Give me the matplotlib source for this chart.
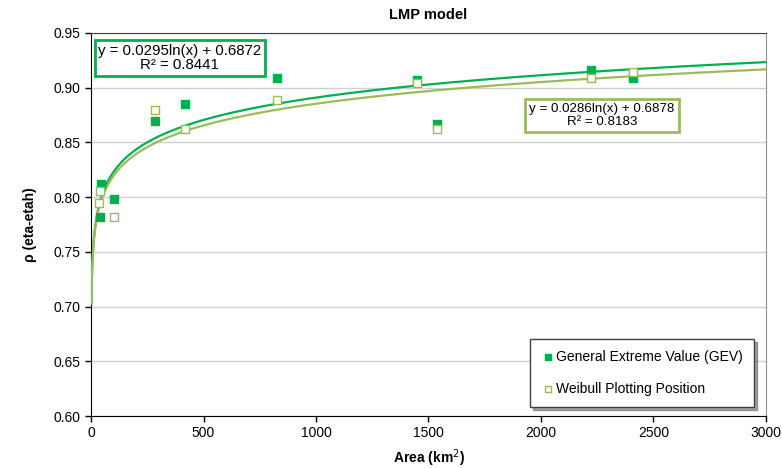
import numpy as np
import matplotlib
matplotlib.use("Agg")
import matplotlib.pyplot as plt

plt.rcParams['font.family'] = ['Liberation Sans', 'DejaVu Sans']

# data
area = [46, 40, 102, 285, 419, 828, 1451, 1540, 2224, 2410]
gev = [0.812, 0.782, 0.798, 0.870, 0.885, 0.909, 0.907, 0.867, 0.916, 0.909]
area_w = [40, 37, 102, 285, 419, 828, 1451, 1540, 2224, 2410]
weibull = [0.806, 0.795, 0.782, 0.880, 0.862, 0.889, 0.904, 0.862, 0.909, 0.914]

# trendline coefficients as printed on the chart
gev_a, gev_b, gev_r2 = 0.0295, 0.6872, 0.8441
wei_a, wei_b, wei_r2 = 0.0286, 0.6878, 0.8183

c_gev = '#00B050'
c_wei = '#9BBB59'

fig = plt.figure(figsize=(7.82, 4.68), dpi=100)
ax = fig.add_axes([0.1164, 0.1111, 0.8631, 0.8184])

xs = np.linspace(1.7, 3000, 2000)
ax.plot(xs, gev_a * np.log(xs) + gev_b, color=c_gev, lw=1.6, zorder=3)
ax.plot(xs, wei_a * np.log(xs) + wei_b, color=c_wei, lw=1.6, zorder=3)

ax.scatter(area, gev, marker='s', s=30, color=c_gev, zorder=4,
           label='General Extreme Value (GEV)')
ax.scatter(area_w, weibull, marker='s', s=30, facecolor='white',
           edgecolor=c_wei, linewidth=1, zorder=5, label='Weibull Plotting Position')

ax.set_xlim(0, 3000)
ax.set_ylim(0.60, 0.95)
ax.set_xticks(np.arange(0, 3001, 500))
ax.set_yticks(np.arange(0.60, 0.951, 0.05))
ax.set_yticklabels([f'{v:.2f}' for v in np.arange(0.60, 0.951, 0.05)])
ax.yaxis.grid(True, color='#d0d0d0', lw=1)
ax.set_axisbelow(True)
ax.tick_params(labelsize=10, direction='out', length=4, width=1, colors='black')
for s in ['left', 'bottom']:
    ax.spines[s].set_color('black')
ax.spines['top'].set_color('#404040')
ax.spines['right'].set_color('#909090')

ax.set_title('LMP model', fontsize=10.5, fontweight='bold', pad=10)
ax.set_xlabel('Area (km$^2$)', fontsize=10, fontweight='bold', labelpad=5)
ax.set_ylabel('ρ (eta-etah)', fontsize=10, fontweight='bold', labelpad=12)

ax.text(395, 0.927, f'y = {gev_a}ln(x) + {gev_b}\nR² = {gev_r2}',
        ha='center', va='center', fontsize=10.8, linespacing=1.0,
        bbox=dict(boxstyle='square,pad=0.25', facecolor='white',
                  edgecolor=c_gev, lw=2), zorder=6)
ax.text(2272, 0.875, f'y = {wei_a}ln(x) + {wei_b}\nR² = {wei_r2}',
        ha='center', va='center', fontsize=9.6, linespacing=1.1,
        bbox=dict(boxstyle='square,pad=0.3', facecolor='white',
                  edgecolor=c_wei, lw=2), zorder=6)

leg = ax.legend(loc='lower right', bbox_to_anchor=(0.993, 0.005), fontsize=10,
                frameon=True, fancybox=False, shadow=True, handletextpad=0.1,
                handlelength=1.0, labelspacing=1.3, borderpad=0.8,
                markerscale=0.7)
leg.get_frame().set_edgecolor('#404040')
leg.get_frame().set_linewidth(1)

fig.savefig('out.png', dpi=100)
